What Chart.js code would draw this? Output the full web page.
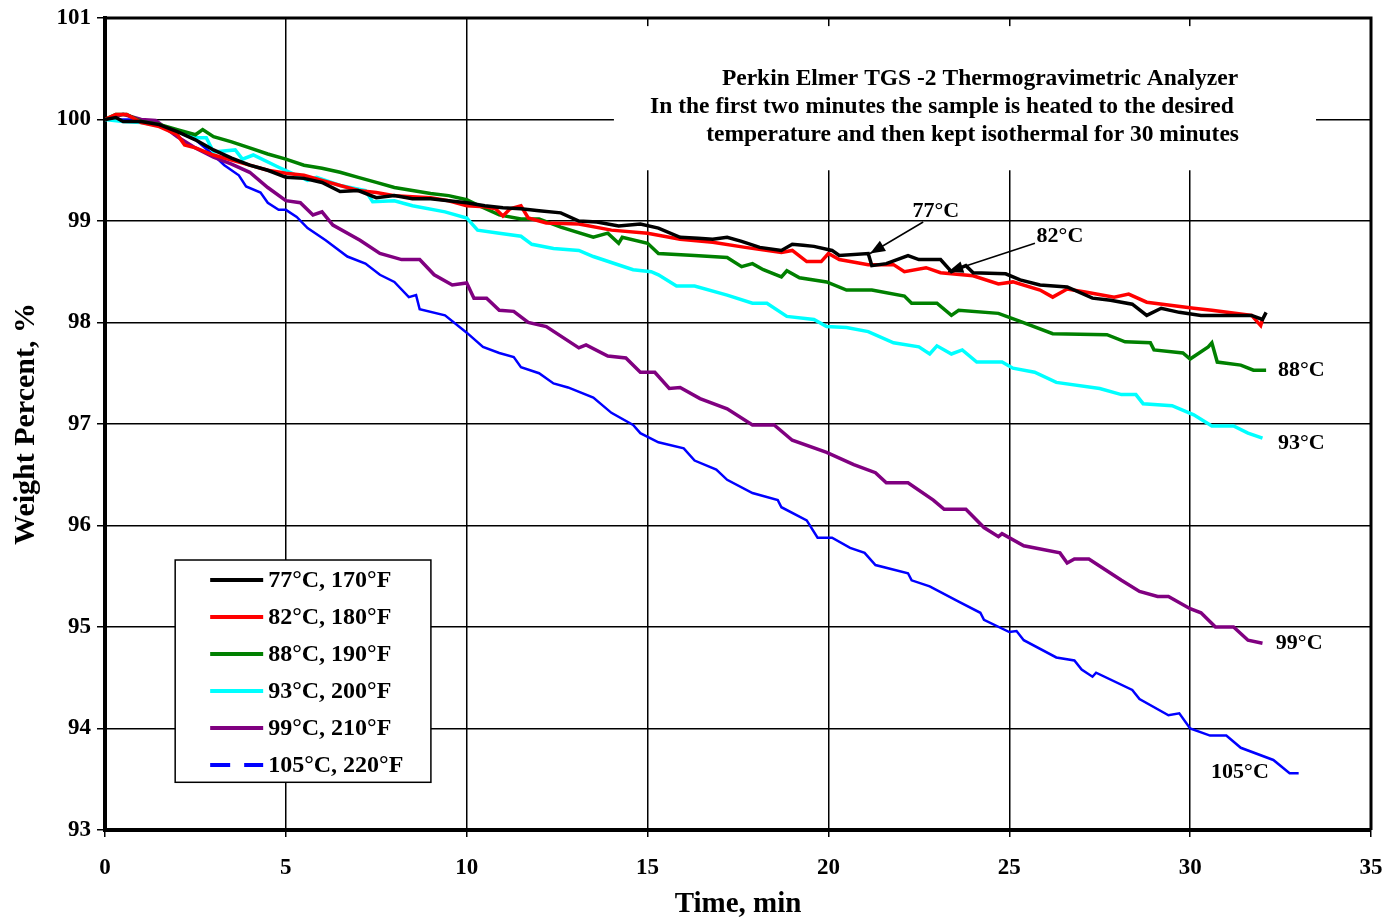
<!DOCTYPE html>
<html>
<head>
<meta charset="utf-8">
<script src="https://cdn.jsdelivr.net/npm/chart.js@4"></script>
<style>
  body { margin: 0; background: #fff; }
  #wrap { width: 1389px; height: 922px; }
</style>
</head>
<body>
<div id="wrap"><canvas id="chart" width="1389" height="922"></canvas></div>
<script>
// time (min) and weight (%), one pair of arrays per run
const t77 = [0,0.3,0.5,1,1.5,2,2.5,3,3.5,4, 4.5,5,5.5,6,6.5,7,7.5,8,8.5,9, 9.5,10,10.5,11,11.5,12,12.6,13.1,13.6,14.2, 14.8,15.3,15.9,16.4,16.8,17.2,17.6,18.1,18.7,19.0, 19.3,19.6,20.1,20.3,21.1,21.2,21.6,22.2,22.5,23.1, 23.4,23.8,24.0,24.9,25.3,25.85,26.6,27.3,27.8,28.4, 28.8,29.2,29.7,30.3,31.0,31.7,32.0,32.1];
const w77 = [100,100.02,99.98,99.98,99.95,99.88,99.8,99.7,99.62,99.55, 99.5,99.43,99.42,99.38,99.29,99.3,99.23,99.25,99.22,99.22, 99.2,99.18,99.15,99.13,99.12,99.1,99.08,99.0,98.99,98.95, 98.97,98.93,98.84,98.83,98.82,98.84,98.8,98.74,98.71,98.77, 98.76,98.75,98.71,98.66,98.68,98.56,98.58,98.66,98.62,98.62, 98.5,98.56,98.49,98.48,98.42,98.37,98.35,98.24,98.22,98.18, 98.07,98.14,98.1,98.07,98.07,98.07,98.03,98.1];

const t82 = [0,0.3,0.6,1,1.5,2,2.2,2.5,3,3.5, 4,4.5,5,5.5,6,6.5,7,7.5,8,8.5, 9,9.5,10,10.5,10.8,11.0,11.2,11.5,11.7,12.2, 13.1,14.0,15.0,15.9,16.8,17.7,18.7,19.0,19.4,19.8, 20.0,20.3,21.1,21.8,22.1,22.7,23.1,24.0,24.7,25.1, 25.85,26.2,26.6,27.1,27.9,28.3,28.8,30.1,30.6,31.7, 31.95,32.0];
const w82 = [100,100.05,100.05,99.97,99.93,99.85,99.75,99.72,99.65,99.6, 99.55,99.5,99.47,99.45,99.4,99.35,99.3,99.28,99.25,99.24, 99.23,99.2,99.15,99.14,99.12,99.05,99.12,99.15,99.03,98.98, 98.97,98.91,98.88,98.82,98.79,98.74,98.69,98.71,98.6,98.6, 98.68,98.62,98.57,98.57,98.5,98.54,98.49,98.46,98.38,98.4, 98.32,98.25,98.33,98.3,98.25,98.28,98.2,98.14,98.12,98.07, 97.97,98.03];

const t88 = [0,0.3,0.6,1,1.5,2,2.5,2.7,3,3.5, 4,4.5,5,5.5,6,6.5,7,7.5,8,8.5, 9,9.5,10,10.4,10.9,11.5,12.0,12.6,13.5,13.9, 14.2,14.3,15.0,15.3,16.3,17.2,17.6,17.9,18.2,18.7, 18.85,19.2,19.95,20.5,21.2,22.1,22.3,23.0,23.4,23.6, 24.7,25.3,26.2,27.7,28.2,28.9,29.0,29.8,30.0,30.5, 30.6,30.75,31.4,31.75,32.1];
const w88 = [100,100.05,100.05,99.98,99.95,99.9,99.85,99.9,99.83,99.78, 99.72,99.66,99.61,99.55,99.52,99.48,99.43,99.38,99.33,99.3, 99.27,99.25,99.21,99.14,99.06,99.02,99.02,98.94,98.84,98.88, 98.78,98.84,98.78,98.68,98.66,98.64,98.55,98.58,98.52,98.45, 98.51,98.44,98.4,98.32,98.32,98.26,98.19,98.19,98.07,98.12, 98.09,98.01,97.89,97.88,97.81,97.8,97.73,97.7,97.64,97.76, 97.8,97.61,97.58,97.53,97.53];

const t93 = [0,0.5,1,1.5,2,2.55,2.8,3.0,3.6,3.8, 4.1,4.8,5.6,5.85,6.5,7.2,7.4,8.0,8.5,9.4, 10.0,10.3,10.9,11.5,11.8,12.4,13.1,13.5,14.6,15.1, 15.3,15.8,16.3,17.2,17.9,18.3,18.85,19.6,19.95,20.5, 21.1,21.8,22.5,22.8,23.0,23.4,23.7,24.1,24.8,25.1, 25.7,26.3,27.5,28.1,28.5,28.7,29.5,30.1,30.6,31.2, 31.6,32.0];
const w93 = [100,99.98,99.97,99.94,99.88,99.82,99.82,99.68,99.7,99.61, 99.65,99.53,99.4,99.43,99.35,99.3,99.19,99.2,99.15,99.09, 99.03,98.91,98.88,98.85,98.77,98.73,98.71,98.65,98.52,98.5, 98.47,98.36,98.36,98.27,98.19,98.19,98.06,98.03,97.96,97.95, 97.91,97.8,97.76,97.69,97.77,97.69,97.73,97.61,97.61,97.55, 97.51,97.41,97.35,97.29,97.29,97.2,97.18,97.09,96.98,96.98, 96.91,96.86];

const t99 = [0,0.5,1,1.4,2.0,2.5,3.0,3.5,4.0,4.5, 5.0,5.4,5.75,6.0,6.3,7.05,7.6,8.2,8.7,9.1, 9.6,10.0,10.2,10.55,10.9,11.3,11.7,12.2,13.1,13.3, 13.9,14.4,14.8,15.2,15.6,15.9,16.45,17.2,17.9,18.5, 19.0,19.95,20.7,21.3,21.6,22.2,22.9,23.2,23.8,24.3, 24.7,24.8,25.4,26.4,26.6,26.8,27.2,28.1,28.6,29.1, 29.4,30.0,30.3,30.7,31.2,31.6,32.0];
const w99 = [100,100.05,100.0,99.99,99.83,99.72,99.63,99.56,99.48,99.33, 99.2,99.18,99.06,99.09,98.96,98.81,98.68,98.62,98.62,98.47, 98.37,98.39,98.24,98.24,98.12,98.11,98.0,97.96,97.75,97.78, 97.67,97.65,97.51,97.51,97.35,97.36,97.25,97.15,96.99,96.99, 96.84,96.72,96.6,96.52,96.42,96.42,96.25,96.16,96.16,95.98, 95.89,95.92,95.8,95.73,95.63,95.67,95.67,95.46,95.35,95.3, 95.3,95.18,95.14,95.0,95.0,94.87,94.84];

const t105 = [0,0.8,1.5,2.0,2.5,3.0,3.3,3.7,3.9,4.3, 4.5,4.8,5.0,5.3,5.6,6.1,6.7,7.2,7.6,8.0, 8.4,8.6,8.7,9.4,10.0,10.45,10.9,11.3,11.5,12.0, 12.4,12.8,13.5,14.0,14.6,14.8,15.3,16.0,16.3,16.9, 17.2,17.9,18.6,18.7,19.4,19.7,20.1,20.6,21.0,21.3, 22.2,22.3,22.8,23.6,24.2,24.3,25.0,25.2,25.4,26.3, 26.8,27.0,27.3,27.4,28.4,28.6,29.4,29.7,30.0,30.55, 31.0,31.4,32.3,32.75,33.0];
const w105 = [100,100,99.94,99.88,99.8,99.65,99.55,99.45,99.34,99.28, 99.18,99.11,99.11,99.04,98.93,98.81,98.65,98.58,98.47,98.4, 98.25,98.27,98.13,98.07,97.9,97.76,97.7,97.66,97.56,97.5, 97.4,97.36,97.26,97.11,96.99,96.91,96.82,96.76,96.64,96.55, 96.45,96.32,96.25,96.18,96.05,95.88,95.88,95.78,95.73,95.61, 95.53,95.46,95.4,95.25,95.14,95.07,94.95,94.96,94.87,94.7, 94.67,94.58,94.51,94.55,94.38,94.29,94.13,94.15,94.0,93.93, 93.93,93.81,93.69,93.56,93.56];

const seriesNames = ["77°C, 170°F", "82°C, 180°F", "88°C, 190°F", "93°C, 200°F", "99°C, 210°F", "105°C, 220°F"];
const seriesColors = ["#000000", "#ff0000", "#008000", "#00ffff", "#800080", "#0000ff"];
const seriesTimes = [t77, t82, t88, t93, t99, t105];
const seriesWeights = [w77, w82, w88, w93, w99, w105];

const noteLines = [
  "Perkin Elmer TGS -2 Thermogravimetric Analyzer",
  "In the first two minutes the sample is heated to the desired",
  "temperature and then kept isothermal for 30 minutes"
];

const SERIF = "'Liberation Serif', 'Times New Roman', serif";

function pairs(ts, ws) {
  const out = [];
  for (let i = 0; i < ts.length; i++) out.push({ x: ts[i], y: ws[i] });
  return out;
}

const datasets = seriesNames.map((name, i) => ({
  label: name,
  data: pairs(seriesTimes[i], seriesWeights[i]),
  borderColor: seriesColors[i],
  borderWidth: i == 5 ? 2.5 : 3.5,
  pointRadius: 0,
  tension: 0,
  fill: false,
}));

function arrow(ctx, x1, y1, x2, y2) {
  ctx.beginPath();
  ctx.moveTo(x1, y1);
  ctx.lineTo(x2, y2);
  ctx.stroke();
  const a = Math.atan2(y2 - y1, x2 - x1);
  const len = 15, half = 6;
  ctx.beginPath();
  ctx.moveTo(x2, y2);
  ctx.lineTo(x2 - len * Math.cos(a) + half * Math.sin(a), y2 - len * Math.sin(a) - half * Math.cos(a));
  ctx.lineTo(x2 - len * Math.cos(a) - half * Math.sin(a), y2 - len * Math.sin(a) + half * Math.cos(a));
  ctx.closePath();
  ctx.fill();
}

const overlay = {
  id: "overlay",
  beforeDatasetsDraw(chart) {
    const ctx = chart.ctx;
    const xs = chart.scales.x, ys = chart.scales.y;
    const a = chart.chartArea;
    ctx.save();
    // top and right frame
    ctx.strokeStyle = "#000";
    ctx.lineWidth = 3;
    ctx.beginPath();
    ctx.moveTo(a.left, a.top);
    ctx.lineTo(a.right, a.top);
    ctx.lineTo(a.right, a.bottom);
    ctx.stroke();

    // note box covering the grid
    const bx1 = xs.getPixelForValue(14.07), bx2 = xs.getPixelForValue(33.48);
    const by1 = ys.getPixelForValue(100.92), by2 = ys.getPixelForValue(99.5);
    ctx.fillStyle = "#fff";
    ctx.fillRect(bx1, by1, bx2 - bx1, by2 - by1);

    ctx.fillStyle = "#000";
    ctx.font = "bold 23.5px " + SERIF;
    ctx.textBaseline = "middle";
    ctx.textAlign = "center";
    ctx.fillText(noteLines[0], xs.getPixelForValue(24.19), ys.getPixelForValue(100.4));
    ctx.textAlign = "left";
    ctx.fillText(noteLines[1], xs.getPixelForValue(15.07), ys.getPixelForValue(100.12));
    ctx.fillText(noteLines[2], xs.getPixelForValue(16.62), ys.getPixelForValue(99.85));
    ctx.restore();
  },
  afterDatasetsDraw(chart) {
    const ctx = chart.ctx;
    const xs = chart.scales.x, ys = chart.scales.y;
    ctx.save();
    ctx.fillStyle = "#000";
    ctx.strokeStyle = "#000";
    ctx.lineWidth = 1.5;
    ctx.font = "bold 22px " + SERIF;
    ctx.textBaseline = "middle";

    // curve labels
    ctx.textAlign = "center";
    ctx.fillText("77°C", xs.getPixelForValue(22.97), ys.getPixelForValue(99.1));
    ctx.fillText("82°C", xs.getPixelForValue(26.4), ys.getPixelForValue(98.85));
    ctx.textAlign = "left";
    ctx.fillText("88°C", xs.getPixelForValue(32.43), ys.getPixelForValue(97.53));
    ctx.fillText("93°C", xs.getPixelForValue(32.43), ys.getPixelForValue(96.81));
    ctx.fillText("99°C", xs.getPixelForValue(32.37), ys.getPixelForValue(94.84));
    ctx.fillText("105°C", xs.getPixelForValue(30.58), ys.getPixelForValue(93.57));

    arrow(ctx, xs.getPixelForValue(22.62), ys.getPixelForValue(98.99), xs.getPixelForValue(21.15), ys.getPixelForValue(98.68));
    arrow(ctx, xs.getPixelForValue(25.71), ys.getPixelForValue(98.78), xs.getPixelForValue(23.31), ys.getPixelForValue(98.5));

    // legend box
    const lx1 = xs.getPixelForValue(1.94), lx2 = xs.getPixelForValue(9.01);
    const ly1 = ys.getPixelForValue(95.66), ly2 = ys.getPixelForValue(93.47);
    ctx.fillStyle = "#fff";
    ctx.fillRect(lx1, ly1, lx2 - lx1, ly2 - ly1);
    ctx.strokeRect(lx1, ly1, lx2 - lx1, ly2 - ly1);
    ctx.font = "bold 24px " + SERIF;
    ctx.textAlign = "left";
    seriesNames.forEach((name, i) => {
      const y = ly1 + 20 + i * 37;
      ctx.strokeStyle = seriesColors[i];
      ctx.lineWidth = 4;
      ctx.setLineDash(i == 5 ? [20, 14] : []);
      ctx.beginPath();
      ctx.moveTo(lx1 + 35, y);
      ctx.lineTo(lx1 + 88, y);
      ctx.stroke();
      ctx.setLineDash([]);
      ctx.fillStyle = "#000";
      ctx.fillText(name, lx1 + 93, y + 1);
    });
    ctx.restore();
  }
};

Chart.defaults.font.family = SERIF;
Chart.defaults.color = "#000";

new Chart(document.getElementById("chart").getContext("2d"), {
  type: "line",
  data: { datasets: datasets },
  options: {
    responsive: false,
    animation: false,
    layout: { padding: { top: 18, right: 18, left: 0, bottom: 0 } },
    plugins: { legend: { display: false }, tooltip: { enabled: false } },
    scales: {
      x: {
        type: "linear",
        min: 0,
        max: 35,
        afterFit: (s) => { s.height = 92; s.paddingLeft = 0; s.paddingRight = 0; },
        ticks: { stepSize: 5, padding: 17, font: { size: 23, weight: "bold" } },
        grid: { color: "#000", lineWidth: 1.5, tickLength: 7 },
        border: { color: "#000", width: 4 },
        title: { display: true, text: "Time, min", font: { size: 29, weight: "bold" }, padding: { top: 0, bottom: 0 } },
      },
      y: {
        min: 93,
        max: 101,
        afterFit: (s) => { s.width = 105; s.paddingTop = 0; s.paddingBottom = 0; },
        ticks: { stepSize: 1, padding: 6, font: { size: 23, weight: "bold" } },
        grid: { color: "#000", lineWidth: 1.5, tickLength: 8 },
        border: { color: "#000", width: 4 },
        title: { display: true, text: "Weight Percent, %", font: { size: 30, weight: "bold" }, padding: { top: 8, bottom: 0 } },
      },
    },
  },
  plugins: [overlay],
});
</script>
</body>
</html>
